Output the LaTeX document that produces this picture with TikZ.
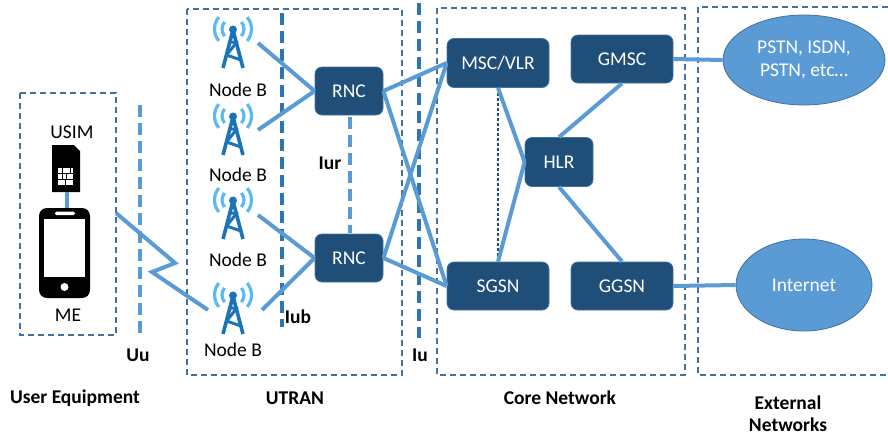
\documentclass[tikz,border=0pt]{standalone}
\usepackage{fontspec}
\setmainfont{Carlito}
\usetikzlibrary{shapes.geometric}
\definecolor{navy}{HTML}{1F4E79}
\definecolor{navyb}{HTML}{41719C}
\definecolor{grpc}{HTML}{41719C}
\definecolor{lnk}{HTML}{5B9BD5}
\definecolor{ifdark}{HTML}{2E75B6}
\definecolor{tow}{HTML}{1A74B8}
\definecolor{wave}{HTML}{5CBAF0}
\newcommand{\fsz}{\fontsize{19.5}{23}\selectfont}
\tikzset{
  grp/.style={draw=grpc, line width=1.8pt, dash pattern=on 6pt off 4pt},
  ne/.style={rectangle, rounded corners=7pt, fill=navy, draw=navyb, line width=0.8pt,
    text=white, font=\fsz, minimum width=102pt, minimum height=49pt, inner sep=0pt},
  cloud/.style={ellipse, fill=lnk, draw=grpc, line width=0.8pt, text=white, font=\fsz,
    align=center, inner sep=0pt},
  link/.style={draw=lnk, line width=4pt},
  iflight/.style={draw=lnk, line width=4.5pt, dash pattern=on 12pt off 6pt},
  ifdk/.style={draw=ifdark, line width=4.5pt, dash pattern=on 12pt off 6pt},
  lbl/.style={font=\fsz, inner sep=0pt},
  blbl/.style={font=\fsz\bfseries, inner sep=0pt},
  tower/.pic={
    \draw[wave, line width=3.2pt] (0,1) ++(140:11) arc[start angle=140, end angle=220, radius=11];
    \draw[wave, line width=3.2pt] (0,1) ++(40:11) arc[start angle=40, end angle=-40, radius=11];
    \draw[wave, line width=3.2pt] (0,1) ++(140:18.5) arc[start angle=140, end angle=220, radius=18.5];
    \draw[wave, line width=3.2pt] (0,1) ++(40:18.5) arc[start angle=40, end angle=-40, radius=18.5];
    \draw[tow, line width=3.6pt, line join=round] (-10,40) -- (0,2) -- (10,40);
    \draw[tow, line width=3pt, line join=round] (-4,14) -- (4,14) -- (-6.5,27) -- (8,32);
    \fill[tow] (0,1.5) circle (4);
  }
}
\begin{document}
\begin{tikzpicture}[x=1pt,y=-1pt]
\useasboundingbox (0,0) rectangle (888,437);
\clip (0,0) rectangle (888,437);

% group boxes
\draw[grp] (20,93) rectangle (116,335);
\draw[grp] (187,9) rectangle (402,375);
\draw[grp] (437,8) rectangle (685,375);
\draw[grp] (698,7) rectangle (900,375);

% interface lines
\draw[iflight] (140,105) -- (140,333);
\draw[ifdk] (282,13) -- (282,327);
\draw[iflight] (350,117) -- (350,233);
\draw[ifdk] (419,3) -- (419,338);

% UE: SIM and phone
\node[lbl] (usim) at (72,132) {USIM};
\fill[black] (52,145) -- (74,145) -- (80,151) -- (80,192) -- (52,192) -- cycle;
\draw[fill=white, line width=0.6pt] (57,167) rectangle (73,185);
\draw[line width=0.6pt] (57,173) -- (73,173) (57,179) -- (73,179)
  (62,167) -- (62,179) (66,173) -- (66,179) (70,167) -- (70,173) (65,179) -- (65,185);
\coordinate (simb) at (67,192);
\coordinate (phonet) at (67,208);
\draw[link] (simb) -- (phonet);
\fill[black, rounded corners=8pt] (39,208) rectangle (90,298);
\fill[white] (44,219) rectangle (85,277);
\fill[white, rounded corners=1.5pt] (55,211.5) rectangle (75,215);
\fill[white] (64.5,287) circle (4);
\node[lbl] (me) at (68,315) {ME};

% towers
\pic at (233,28) {tower};
\pic at (233,115) {tower};
\pic at (233,199) {tower};
\pic at (233,294) {tower};
\node[lbl] (nbl1) at (238,90) {Node B};
\node[lbl] (nbl2) at (238,175) {Node B};
\node[lbl] (nbl3) at (238,260) {Node B};
\node[lbl] (nbl4) at (233,350) {Node B};
\coordinate (nb1) at (258,43);
\coordinate (nb2) at (258,130);
\coordinate (nb3) at (258,215);
\coordinate (nb4) at (262,310);
\coordinate (nb4l) at (208,310);
\coordinate (ue) at (116,213);

% network elements
\node[ne, minimum width=68pt, minimum height=48pt] (rnc1) at (349,91) {RNC};
\node[ne, minimum width=68pt, minimum height=48pt] (rnc2) at (349,258) {RNC};
\node[ne] (msc) at (498,63) {MSC/VLR};
\node[ne, minimum height=48pt] (gmsc) at (622,59) {GMSC};
\node[ne, minimum width=68pt] (hlr) at (559,162) {HLR};
\node[ne, minimum height=48pt] (sgsn) at (498,286) {SGSN};
\node[ne, minimum height=48pt] (ggsn) at (622,286) {GGSN};
\node[cloud, minimum width=162pt, minimum height=90pt] (pstn) at (804,60) {PSTN, ISDN,\\PSTN, etc…};
\node[cloud, minimum width=136pt, minimum height=92pt] (inet) at (804,285) {Internet};

% links
\draw[link] (ue) -- (175,263) -- (152,272) -- (nb4l);
\draw[link] (nb1) -- (rnc1.west);
\draw[link] (nb2) -- (rnc1.west);
\draw[link] (nb3) -- (rnc2.west);
\draw[link] (nb4) -- (rnc2.west);
\draw[link] (rnc1.east) -- (msc.west);
\draw[link] (rnc1.east) -- (sgsn.west);
\draw[link] (rnc2.east) -- (msc.west);
\draw[link] (rnc2.east) -- (sgsn.west);
\draw[navy, line width=1.3pt, dash pattern=on 3pt off 2pt] (msc.south) -- (sgsn.north);
\draw[link] (msc.south) -- (hlr.west);
\draw[link] (sgsn.north) -- (hlr.west);
\draw[link] (gmsc.south) -- (hlr.north);
\draw[link] (hlr.south) -- (ggsn.north);
\draw[link] (gmsc.east) -- (pstn.west);
\draw[link] (ggsn.east) -- (inet.west);

% interface labels
\node[blbl] (uu) at (138,355) {Uu};
\node[blbl] (iub) at (298,317) {Iub};
\node[blbl] (iur) at (330,163) {Iur};
\node[blbl] (iu) at (420,355) {Iu};

% domain labels
\node[blbl] (lue) at (75,398) {User Equipment};
\node[blbl] (lutran) at (295,398) {UTRAN};
\node[blbl] (lcore) at (560,398) {Core Network};
\node[blbl, align=center, font=\fontsize{19.5}{22}\selectfont\bfseries] (lext) at (788,414) {External\\Networks};
\end{tikzpicture}
\end{document}
